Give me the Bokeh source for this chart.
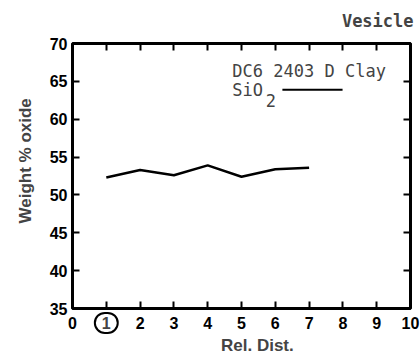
import math
from bokeh.plotting import figure
from bokeh.models import LinearAxis, Label, FixedTicker
from bokeh.embed import file_html
from bokeh.resources import INLINE

# data
rel_dist = [1, 2, 3, 4, 5, 6, 7]
sio2 = [52.3, 53.3, 52.6, 53.9, 52.4, 53.4, 53.6]
x_ticks = [0, 1, 2, 3, 4, 5, 6, 7, 8, 9, 10]
y_ticks = [35, 40, 45, 50, 55, 60, 65, 70]

FONT = "Liberation Sans"
MONO = "DejaVu Sans Mono"

p = figure(width=420, height=357, x_range=(0, 10), y_range=(35, 70),
           output_backend="svg", toolbar_location=None,
           min_border_left=72, min_border_right=10, min_border_top=43, min_border_bottom=49,
           x_axis_location=None, y_axis_location=None)
p.grid.visible = False
p.outline_line_color = "black"
p.outline_line_width = 3
p.background_fill_color = "white"
p.border_fill_color = "white"

def style_axis(ax, labels=True):
    ax.axis_line_color = None
    ax.major_tick_in = 7
    ax.major_tick_out = 0
    ax.minor_tick_line_color = None
    ax.major_tick_line_width = 2
    ax.major_tick_line_color = "black"
    if labels:
        ax.major_label_text_font = FONT
        ax.major_label_text_font_style = "bold"
        ax.major_label_text_font_size = "16px"
        ax.major_label_text_color = "black"
    else:
        ax.major_label_text_font_size = "1px"
        ax.major_label_text_color = None
        ax.major_label_standoff = 0

xb = LinearAxis(ticker=FixedTicker(ticks=x_ticks))
style_axis(xb)
xb.major_label_standoff = 8
xb.major_label_overrides = {1: ""}
p.add_layout(xb, "below")

xt = LinearAxis(ticker=FixedTicker(ticks=x_ticks))
style_axis(xt, labels=False)
p.add_layout(xt, "above")

yl = LinearAxis(ticker=FixedTicker(ticks=y_ticks))
style_axis(yl)
yl.major_label_standoff = 5
p.add_layout(yl, "left")

yr = LinearAxis(ticker=FixedTicker(ticks=y_ticks))
style_axis(yr, labels=False)
p.add_layout(yr, "right")

p.line(rel_dist, sio2, line_color="black", line_width=2.5)

# texts outside the frame, placed in the side panels (positioned through the data scales)
p.add_layout(Label(x=5.47, y=30.1, text="Rel. Dist.",
                   text_font=FONT, text_font_style="bold", text_font_size="17px",
                   text_align="center", text_baseline="middle"), "below")
p.add_layout(Label(x=-1.39, y=54.5, text="Weight % oxide",
                   angle=math.pi / 2, text_font=FONT, text_font_style="bold",
                   text_font_size="17px", text_align="center", text_baseline="middle"), "left")
p.add_layout(Label(x=1, y=33.1, text="1",
                   text_font=FONT, text_font_style="bold", text_font_size="16px",
                   text_align="center", text_baseline="middle",
                   border_line_color="black", border_line_width=2,
                   border_radius=11, padding=(7, 4)), "left")
p.add_layout(Label(x=10.09, y=73.0, text="Vesicle",
                   text_font=MONO, text_font_style="bold", text_font_size="17px",
                   text_align="right", text_baseline="middle"), "above")

# legend text
p.add_layout(Label(x=4.73, y=66.4, text="DC6 2403 D Clay", text_font=MONO,
                   text_font_size="17px", text_align="left", text_baseline="middle"))
p.add_layout(Label(x=4.73, y=63.8, text="SiO", text_font=MONO,
                   text_font_size="17px", text_align="left", text_baseline="middle"))
p.add_layout(Label(x=5.72, y=62.5, text="2", text_font=MONO,
                   text_font_size="17px", text_align="left", text_baseline="middle"))
p.segment(x0=[6.21], y0=[63.9], x1=[7.99], y1=[63.9], line_color="black", line_width=2)

open("out.html", "w").write(file_html(p, INLINE))
